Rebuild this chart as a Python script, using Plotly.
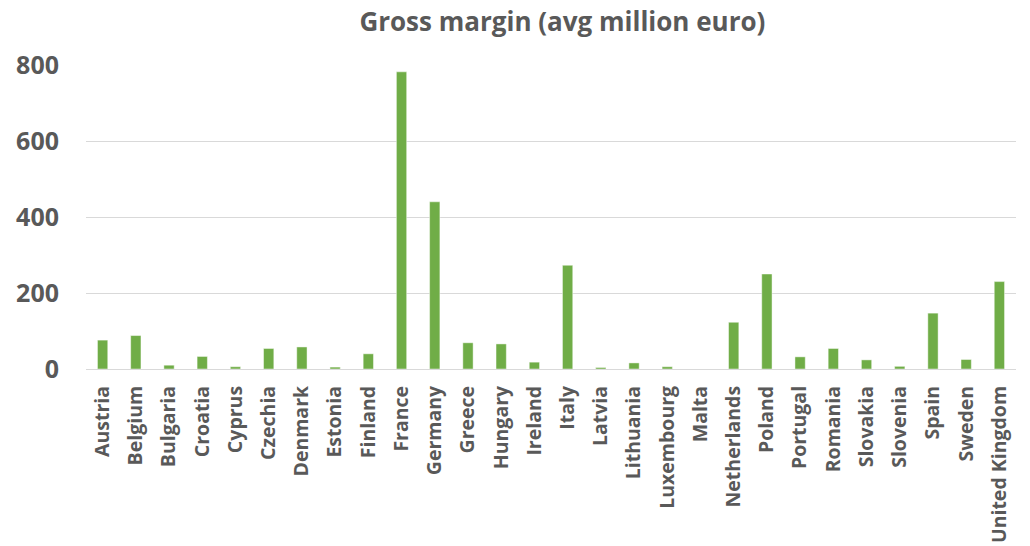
import plotly.graph_objects as go

# Average gross margin per country, million euro
countries = [
    "Austria", "Belgium", "Bulgaria", "Croatia", "Cyprus", "Czechia", "Denmark",
    "Estonia", "Finland", "France", "Germany", "Greece", "Hungary", "Ireland",
    "Italy", "Latvia", "Lithuania", "Luxembourg", "Malta", "Netherlands", "Poland",
    "Portugal", "Romania", "Slovakia", "Slovenia", "Spain", "Sweden", "United Kingdom",
]
gross_margin = [
    76, 88, 10, 33, 6, 54, 58,
    5, 40, 782, 440, 69, 66, 18,
    273, 4, 16, 6, 0, 123, 250,
    32, 54, 24, 7, 147, 25, 230,
]
y_ticks = [0, 200, 400, 600, 800]

TEXT = "#595959"
FONT = "Open Sans"

fig = go.Figure(
    go.Bar(
        x=countries,
        y=gross_margin,
        marker=dict(color="#70AD47", line=dict(color="rgba(255,255,255,0.45)", width=1)),
    )
)

fig.update_layout(
    width=1030,
    height=546,
    margin=dict(l=86, r=14, t=65, b=177),
    paper_bgcolor="white",
    plot_bgcolor="white",
    bargap=0.69,
    showlegend=False,
    title=dict(
        text="<b>Gross margin (avg million euro)</b>",
        x=0.546,
        xanchor="center",
        xref="container",
        y=0.96,
        yanchor="middle",
        font=dict(family=FONT, size=26, color=TEXT),
    ),
    font=dict(family=FONT, color=TEXT),
)

fig.update_yaxes(
    range=[0, 800],
    tickvals=y_ticks,
    ticktext=[f"<b>{v}</b>" for v in y_ticks],
    tickfont=dict(family=FONT, size=25, color=TEXT),
    showgrid=True,
    gridcolor="#D9D9D9",
    gridwidth=1.2,
    zeroline=False,
    showline=False,
    ticklabelstandoff=26,
    automargin=False,
)

fig.update_xaxes(
    tickvals=countries,
    ticktext=[f"<b>{c}</b>" for c in countries],
    tickangle=-90,
    tickfont=dict(family=FONT, size=19.5, color=TEXT),
    showline=True,
    linecolor="#D9D9D9",
    linewidth=1.2,
    showgrid=False,
    ticklabelstandoff=8,
    automargin=False,
)

fig.write_html("out.html")
